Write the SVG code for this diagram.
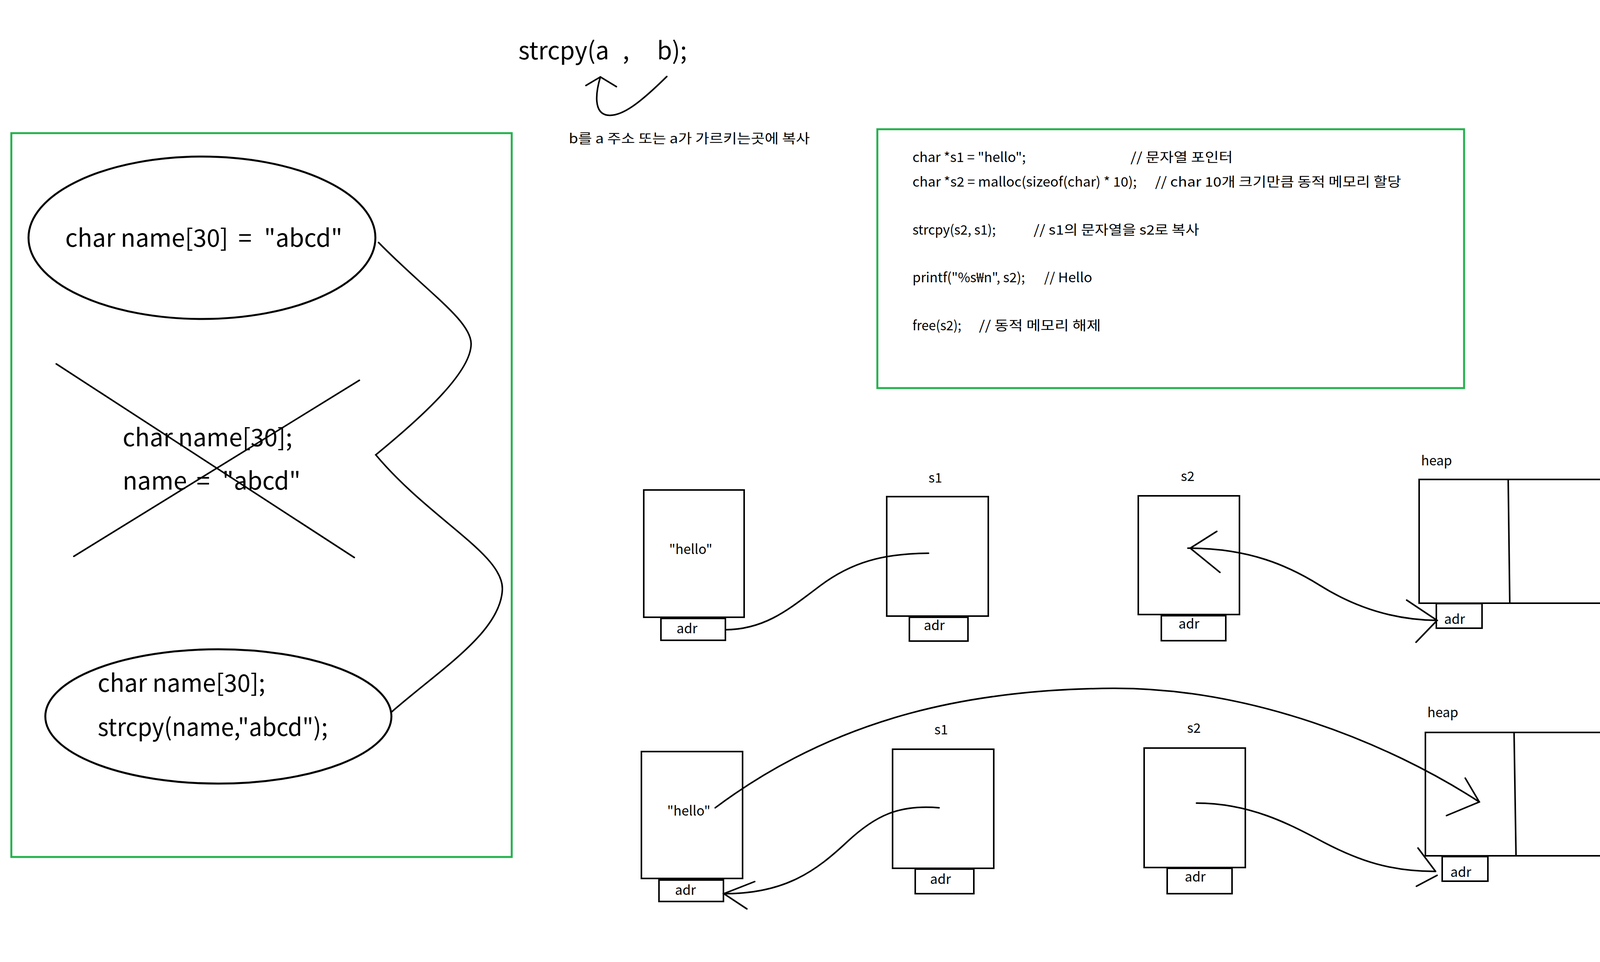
<svg xmlns="http://www.w3.org/2000/svg" width="5392" height="2464" viewBox="0 0 5392 2464">
<style>
text{font-family:"Noto Sans CJK KR","Noto Sans",sans-serif;fill:#000}
.big{font-size:62px}
.code{font-size:34px}
.lbl{font-size:34px}
.box{fill:#fff;stroke:#000;stroke-width:4}
.frame{fill:none;stroke:#22b14c;stroke-width:5}
.ln{fill:none;stroke:#000;stroke-width:4;stroke-linecap:round}
.ell{fill:none;stroke:#000;stroke-width:5}
</style>
<rect width="5392" height="2464" fill="#fff"/>

<g id="left-panel">
  <rect class="frame" x="29" y="341" width="1281" height="1854"/>
</g>
<g id="ellipse-init">
  <ellipse class="ell" cx="517" cy="609" rx="444" ry="208"/>
  <text class="big"><tspan x="167" y="632">char name[30]</tspan><tspan x="610" y="632">=</tspan><tspan x="676" y="632">"abcd"</tspan></text>
</g>
<g id="crossed-out">
  <text class="big"><tspan x="314" y="1143">char name[30];</tspan><tspan x="314" y="1254">name</tspan><tspan x="503" y="1254">=</tspan><tspan x="569" y="1254">"abcd"</tspan></text>
  <line class="ln" x1="144" y1="932" x2="907" y2="1428"/>
  <line class="ln" x1="920" y1="974" x2="189" y2="1425"/>
</g>
<g id="ellipse-strcpy">
  <ellipse class="ell" cx="559" cy="1835" rx="443" ry="172"/>
  <text class="big" x="250" y="1772" textLength="429" lengthAdjust="spacingAndGlyphs">char name[30];</text>
  <text class="big" x="250" y="1885" textLength="589" lengthAdjust="spacingAndGlyphs">strcpy(name,"abcd");</text>
</g>

<g id="strcpy-title">
  <text class="big"><tspan x="1327" y="152">strcpy(a</tspan><tspan x="1594" y="152">,</tspan><tspan x="1682" y="152">b);</tspan></text>
  <text class="lbl" x="1456" y="367" textLength="617" lengthAdjust="spacingAndGlyphs">b를 a 주소 또는 a가 가르키는곳에 복사</text>
</g>

<g id="code-box">
  <rect class="frame" x="2246" y="331" width="1502" height="663"/>
  <text class="code" x="2336" y="415" textLength="290" lengthAdjust="spacingAndGlyphs">char *s1 = "hello";</text>
  <text class="code" x="2894" y="415" textLength="262" lengthAdjust="spacingAndGlyphs">// 문자열 포인터</text>
  <text class="code" x="2336" y="478" textLength="574" lengthAdjust="spacingAndGlyphs">char *s2 = malloc(sizeof(char) * 10);</text>
  <text class="code" x="2957" y="478" textLength="630" lengthAdjust="spacingAndGlyphs">// char 10개 크기만큼 동적 메모리 할당</text>
  <text class="code" x="2336" y="601" textLength="213" lengthAdjust="spacingAndGlyphs">strcpy(s2, s1);</text>
  <text class="code" x="2646" y="601" textLength="424" lengthAdjust="spacingAndGlyphs">// s1의 문자열을 s2로 복사</text>
  <text class="code" x="2336" y="723" textLength="288" lengthAdjust="spacingAndGlyphs">printf("%s₩n", s2);</text>
  <text class="code" x="2673" y="723" textLength="123" lengthAdjust="spacingAndGlyphs">// Hello</text>
  <text class="code" x="2336" y="846" textLength="125" lengthAdjust="spacingAndGlyphs">free(s2);</text>
  <text class="code" x="2506" y="846" textLength="312" lengthAdjust="spacingAndGlyphs">// 동적 메모리 해제</text>
</g>

<!-- Row 1 -->
<g id="r1-hello">
  <rect class="box" x="1648" y="1255" width="257" height="326"/>
  <text class="lbl" x="1713" y="1419">"hello"</text>
  <rect class="box" x="1692" y="1584" width="165" height="56"/>
  <text class="lbl" x="1732" y="1622">adr</text>
</g>
<g id="r1-s1">
  <text class="lbl" x="2377" y="1236">s1</text>
  <rect class="box" x="2270" y="1272" width="260" height="306"/>
  <rect class="box" x="2328" y="1581" width="150" height="61"/>
  <text class="lbl" x="2365" y="1614">adr</text>
</g>
<g id="r1-s2">
  <text class="lbl" x="3023" y="1232">s2</text>
  <rect class="box" x="2914" y="1270" width="259" height="304"/>
  <rect class="box" x="2973" y="1577" width="165" height="64"/>
  <text class="lbl" x="3017" y="1610">adr</text>
</g>
<g id="r1-heap">
  <text class="lbl" x="3638" y="1192">heap</text>
  <rect class="box" x="3633" y="1228" width="1129" height="317"/>
  <line class="ln" x1="3861" y1="1230" x2="3865" y2="1544"/>
  <rect class="box" x="3677" y="1546" width="117" height="63"/>
  <text class="lbl" x="3697" y="1598">adr</text>
</g>

<!-- Row 2 -->
<g id="r2-hello">
  <rect class="box" x="1642" y="1925" width="259" height="325"/>
  <text class="lbl" x="1708" y="2089">"hello"</text>
  <rect class="box" x="1687" y="2254" width="165" height="55"/>
  <text class="lbl" x="1728" y="2292">adr</text>
</g>
<g id="r2-s1">
  <text class="lbl" x="2392" y="1881">s1</text>
  <rect class="box" x="2285" y="1919" width="259" height="305"/>
  <rect class="box" x="2343" y="2226" width="150" height="63"/>
  <text class="lbl" x="2381" y="2264">adr</text>
</g>
<g id="r2-s2">
  <text class="lbl" x="3039" y="1877">s2</text>
  <rect class="box" x="2929" y="1916" width="259" height="306"/>
  <rect class="box" x="2988" y="2224" width="166" height="65"/>
  <text class="lbl" x="3033" y="2258">adr</text>
</g>
<g id="r2-heap">
  <text class="lbl" x="3654" y="1837">heap</text>
  <rect class="box" x="3649" y="1876" width="1128" height="316"/>
  <line class="ln" x1="3876" y1="1877" x2="3881" y2="2191"/>
  <rect class="box" x="3692" y="2194" width="117" height="63"/>
  <text class="lbl" x="3713" y="2246">adr</text>
</g>

<g id="connectors">
  <path class="ln" stroke-width="3.5" d="M969,621 C1090,745 1205,820 1206,880 C1207,950 1090,1060 962,1165 C1100,1330 1290,1420 1286,1510 C1282,1620 1120,1720 1002,1824"/>
  <path class="ln" stroke-width="7" d="M1707,196 C1640,262 1592,300 1555,295 C1520,290 1524,240 1537,197"/>
  <path class="ln" stroke-width="7" d="M1500,219 L1537,197 L1578,222"/>
  <path class="ln" stroke-width="3.5" d="M1857,1613 C1960,1612 2020,1560 2100,1500 C2180,1440 2260,1418 2377,1417"/>
  <path class="ln" stroke-width="3.5" d="M3041,1404 C3200,1404 3300,1450 3380,1500 C3460,1550 3560,1588 3679,1589"/>
  <path class="ln" d="M3115,1361 L3047,1404 L3123,1466"/>
  <path class="ln" d="M3601,1537 L3679,1589 L3625,1645"/>
  <path class="ln" stroke-width="3.5" d="M1831,2069 C2150,1830 2500,1765 2850,1763 C3200,1762 3550,1900 3787,2054"/>
  <path class="ln" d="M3751,1993 L3787,2054 L3703,2089"/>
  <path class="ln" stroke-width="3.5" d="M2404,2069 C2300,2060 2240,2090 2170,2155 C2090,2230 2010,2290 1853,2289"/>
  <path class="ln" d="M1932,2258 L1853,2289 L1912,2328"/>
  <path class="ln" stroke-width="3.5" d="M3063,2057 C3200,2057 3300,2110 3390,2158 C3480,2205 3560,2232 3675,2232"/>
  <path class="ln" d="M3630,2172 L3675,2232"/>
  <path class="ln" d="M3679,2242 L3626,2270"/>
</g>
</svg>
